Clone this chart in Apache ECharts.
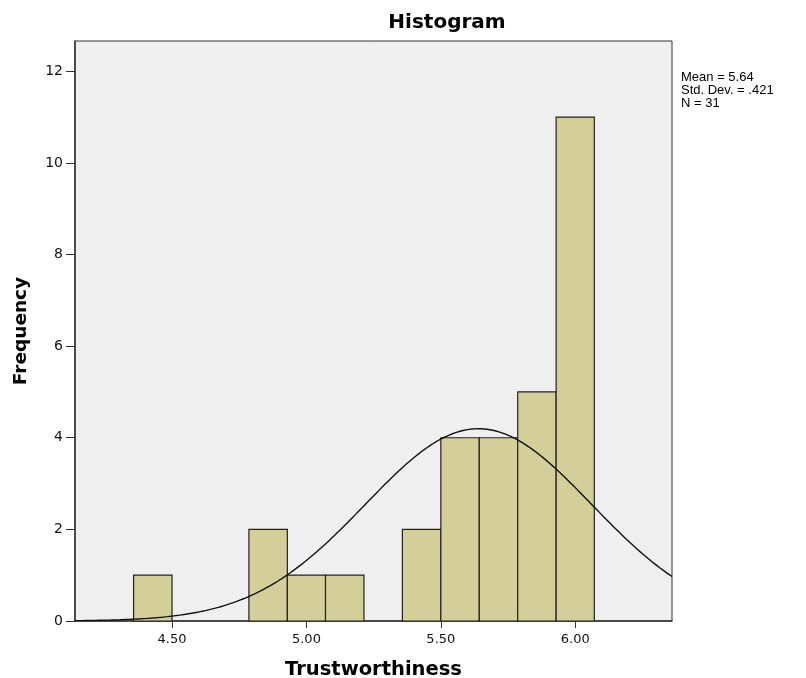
<!DOCTYPE html>
<html><head><meta charset="utf-8">
<script src="https://cdn.jsdelivr.net/npm/echarts@6/dist/echarts.min.js"></script>
<style>html,body{margin:0;padding:0;background:#fff}#c{width:806px;height:678px}</style>
</head><body><div id="c"></div>
<script>
// Histogram bins (bin start, bin end) and counts
const binStarts = [4.357, 4.500, 4.643, 4.786, 4.929, 5.071, 5.214, 5.357, 5.500, 5.643, 5.786, 5.929];
const binEnds   = [4.500, 4.643, 4.786, 4.929, 5.071, 5.214, 5.357, 5.500, 5.643, 5.786, 5.929, 6.071];
const counts    = [1, 0, 0, 2, 1, 1, 0, 2, 4, 4, 5, 11];
const xTicks = [4.5, 5.0, 5.5, 6.0];
const yTicks = [0, 2, 4, 6, 8, 10, 12];
const statsLines = ['Mean = 5.64', 'Std. Dev. = .421', 'N = 31'];
const mean = 5.64, sd = 0.421, n = 31, binWidth = 1/7;
const xMin = 4.139, xMax = 6.36, yMax = 12.66;

const curve = [];
for (let i = 0; i <= 200; i++) {
  const x = xMin + (xMax - xMin) * i / 200;
  const z = (x - mean) / sd;
  curve.push([x, n * binWidth * Math.exp(-0.5 * z * z) / (sd * Math.sqrt(2 * Math.PI))]);
}
const bars = binStarts.map((s, i) => [s, binEnds[i], counts[i]]).filter(d => d[2] > 0);

const chart = echarts.init(document.getElementById('c'));
chart.setOption({
  animation: false,
  title: {
    text: 'Histogram', left: 442, top: 8, textAlign: 'center',
    textStyle: {fontFamily: 'DejaVu Sans', fontSize: 20, fontWeight: 'bold', color: '#000'}
  },
  graphic: [{
    type: 'text', left: 681, top: 71,
    style: {text: statsLines.join('\n'), font: '13px "Liberation Sans"', lineHeight: 13, fill: '#000'}
  }],
  grid: {left: 75, right: 134, top: 41, bottom: 57, show: true, backgroundColor: '#efefef',
    borderColor: '#333', borderWidth: 1, outerBoundsMode: 'none', containLabel: false},
  xAxis: {
    type: 'value', min: xMin, max: xMax,
    name: 'Trustworthiness', nameLocation: 'middle', nameGap: 39,
    nameTextStyle: {fontFamily: 'DejaVu Sans', fontSize: 19.5, fontWeight: 'bold', color: '#000'},
    axisLine: {show: true, lineStyle: {color: '#333', width: 1.5}},
    axisTick: {show: true, length: 7, customValues: xTicks, lineStyle: {color: '#333'}},
    axisLabel: {customValues: xTicks, formatter: v => v.toFixed(2), fontFamily: 'DejaVu Sans', fontSize: 13, color: '#111', margin: 12},
    splitLine: {show: false}
  },
  yAxis: {
    type: 'value', min: 0, max: yMax,
    name: 'Frequency', nameLocation: 'middle', nameGap: 44, nameRotate: 90,
    nameTextStyle: {fontFamily: 'DejaVu Sans', fontSize: 18.5, fontWeight: 'bold', color: '#000'},
    axisLine: {show: true, lineStyle: {color: '#333', width: 1.5}},
    axisTick: {show: true, length: 9, customValues: yTicks, lineStyle: {color: '#333'}},
    axisLabel: {customValues: yTicks, fontFamily: 'DejaVu Sans', fontSize: 14, color: '#111', margin: 12},
    splitLine: {show: false}
  },
  series: [{
    type: 'custom',
    data: bars,
    renderItem: (params, api) => {
      const p0 = api.coord([api.value(0), api.value(2)]);
      const p1 = api.coord([api.value(1), 0]);
      return {type: 'rect', shape: {x: p0[0], y: p0[1], width: p1[0] - p0[0], height: p1[1] - p0[1]},
        style: {fill: '#d4cf98', stroke: '#222', lineWidth: 1.2}};
    },
    encode: {x: [0, 1], y: 2}
  }, {
    type: 'line', data: curve, showSymbol: false, smooth: false,
    lineStyle: {color: '#111', width: 1.4}, z: 5
  }]
});
</script></body></html>
